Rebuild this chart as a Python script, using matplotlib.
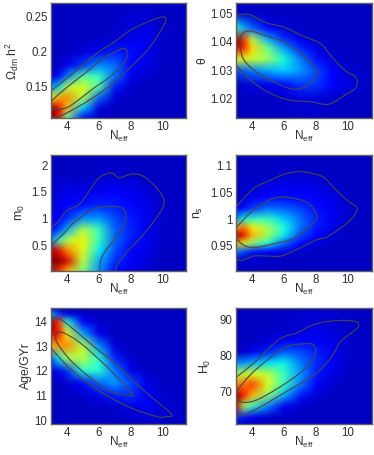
import numpy as np
import matplotlib
matplotlib.use('Agg')
import matplotlib.pyplot as plt
from matplotlib.path import Path
from matplotlib.patches import PathPatch

plt.rcParams['font.family'] = ['Liberation Sans', 'DejaVu Sans']
plt.rcParams['mathtext.fontset'] = 'custom'
plt.rcParams['mathtext.rm'] = 'Liberation Sans'
plt.rcParams['mathtext.it'] = 'Liberation Sans'
plt.rcParams['mathtext.default'] = 'regular'

W, H = 374, 455
FRAME = '#606060'
LINE = '#484848'
TEXT = '#303030'

# 공통 x 격자 (N_eff)
neff = [3, 3.5, 4, 5, 6, 7, 8, 9, 10, 11.5]
neff_ticks = [4, 6, 8, 10]

# Omega_dm h^2
om_y = [0.105, 0.12, 0.135, 0.15, 0.165, 0.18, 0.2, 0.22, 0.27]
om_z = [
    [1.0, .90, .45, .12, .06, .06, .06, .06, .06, .06],
    [1.0, .90, .72, .34, .08, .06, .06, .06, .06, .06],
    [.62, .72, .76, .58, .24, .08, .06, .06, .06, .06],
    [.25, .35, .56, .62, .45, .15, .07, .06, .06, .06],
    [.08, .12, .25, .46, .42, .24, .10, .07, .06, .06],
    [.06, .06, .10, .18, .27, .24, .13, .09, .06, .06],
    [.06, .06, .06, .08, .10, .15, .14, .10, .07, .06],
    [.06, .06, .06, .06, .06, .07, .09, .10, .07, .06],
    [.06, .06, .06, .06, .06, .06, .06, .06, .06, .06],
]
om_out_x = [3, 4, 5.9, 6.9, 8, 9, 10, 10.2, 9.45, 8.6, 6.9, 5.9, 4.85, 3.7, 3]
om_out_y = [.144, .162, .198, .213, .231, .242, .25, .243, .214, .191, .155, .138, .123, .109, .1046]
om_in_x = [3, 4, 5.3, 6.3, 7.15, 7.6, 7.8, 7.6, 6.7, 5.7, 4.85, 4.1, 3.4, 3]
om_in_y = [.129, .149, .172, .191, .201, .205, .198, .184, .164, .148, .133, .121, .117, .1186]

# theta
th_y = [1.0131, 1.02, 1.025, 1.03, 1.034, 1.038, 1.041, 1.045, 1.05, 1.0538]
th_z = [
    [.06, .06, .06, .06, .06, .06, .06, .06, .06, .06],
    [.06, .06, .06, .06, .07, .08, .08, .07, .06, .06],
    [.06, .07, .08, .10, .13, .18, .18, .13, .09, .06],
    [.20, .22, .25, .30, .33, .28, .20, .12, .07, .06],
    [.62, .62, .60, .54, .38, .25, .14, .08, .06, .06],
    [.94, .88, .68, .48, .28, .16, .09, .06, .06, .06],
    [1.0, .85, .58, .30, .17, .10, .07, .06, .06, .06],
    [.40, .30, .22, .12, .08, .06, .06, .06, .06, .06],
    [.08, .07, .06, .06, .06, .06, .06, .06, .06, .06],
    [.06, .06, .06, .06, .06, .06, .06, .06, .06, .06],
]
th_out_x = [3, 3.4, 3.9, 4.95, 6, 7.05, 8.3, 8.9, 9.8, 10.5, 10.5, 9.8, 8.8, 7.7, 6.2, 4.95, 3.9, 3]
th_out_y = [1.0494, 1.0498, 1.0496, 1.0467, 1.0453, 1.0424, 1.0394, 1.0353, 1.03, 1.0274, 1.0239, 1.0212, 1.018, 1.0188, 1.0196, 1.0224, 1.0265, 1.0318]
th_in_x = [3.3, 3.4, 3.9, 4.75, 6, 7.05, 8, 8, 7.25, 6.4, 5.15, 4, 3.4, 3.3]
th_in_y = [1.0394, 1.0429, 1.0439, 1.0424, 1.04, 1.0359, 1.0306, 1.0276, 1.0239, 1.0235, 1.0265, 1.0306, 1.0347, 1.0394]

# m_0
m_y = [.017, .2, .4, .6, .8, 1, 1.25, 1.5, 1.8, 2.194]
m_z = [
    [.90, .85, .72, .50, .28, .13, .09, .07, .06, .06],
    [1.0, 1.0, .92, .58, .30, .17, .11, .08, .06, .06],
    [.95, .90, .78, .62, .36, .20, .13, .09, .06, .06],
    [.25, .42, .56, .65, .42, .23, .15, .10, .07, .06],
    [.13, .18, .30, .56, .42, .22, .16, .10, .07, .06],
    [.10, .12, .17, .27, .28, .20, .15, .10, .07, .06],
    [.08, .09, .11, .14, .16, .15, .13, .09, .07, .06],
    [.07, .08, .10, .09, .10, .11, .10, .08, .06, .06],
    [.06, .06, .06, .06, .07, .07, .07, .06, .06, .06],
    [.06, .06, .06, .06, .06, .06, .06, .06, .06, .06],
]
m_out_x = [3, 3.5, 4, 4.85, 5.9, 6.5, 6.9, 7.3, 8.2, 9, 9.9, 10.1, 9.45, 8.6, 7.8, 7.15, 7.1]
m_out_y = [.83, .96, 1.15, 1.29, 1.73, 1.84, 1.85, 1.77, 1.84, 1.76, 1.48, 1.26, .94, .63, .38, .13, .017]
m_in_x = [3, 3.8, 4.5, 5.7, 6.5, 7.35, 7.7, 7.55, 6.95, 6.2, 6.05]
m_in_y = [.5, .72, .94, 1.18, 1.23, 1.21, 1.11, .85, .6, .28, .017]
m_low_x = [3, 3.3]
m_low_y = [.21, .017]

# n_s
ns_y = [.903, .925, .94, .955, .97, .985, 1, 1.02, 1.04, 1.06, 1.085, 1.12]
ns_z = [
    [.06, .06, .06, .06, .06, .06, .06, .06, .06, .06],
    [.07, .07, .07, .06, .06, .06, .06, .06, .06, .06],
    [.25, .20, .15, .12, .09, .07, .06, .06, .06, .06],
    [.74, .62, .52, .38, .22, .13, .08, .06, .06, .06],
    [1.0, .90, .72, .55, .36, .20, .12, .08, .06, .06],
    [.74, .78, .66, .54, .38, .24, .15, .09, .06, .06],
    [.28, .38, .42, .42, .33, .24, .16, .10, .07, .06],
    [.12, .14, .18, .24, .22, .19, .14, .10, .07, .06],
    [.07, .08, .10, .13, .14, .13, .11, .09, .06, .06],
    [.06, .06, .07, .09, .10, .10, .09, .07, .06, .06],
    [.06, .06, .06, .06, .07, .07, .06, .06, .06, .06],
    [.06, .06, .06, .06, .06, .06, .06, .06, .06, .06],
]
ns_out_x = [3, 4.1, 4.95, 6, 6.9, 7.7, 8.5, 9.15, 10, 10.55, 10.4, 9.8, 8.7, 8, 6.85, 5.8, 4.95, 4.1, 3.4, 3]
ns_out_y = [1.023, 1.0575, 1.07, 1.084, 1.089, 1.086, 1.078, 1.0575, 1.034, 1.022, 1.0075, .989, .967, .961, .944, .931, .931, .931, .923, .926]
ns_in_x = [3, 4.1, 5.35, 6.4, 7.45, 8, 7.9, 6.6, 5.35, 4.2, 3.5, 3]
ns_in_y = [.984, 1.017, 1.039, 1.04, 1.031, 1.011, .995, .964, .954, .947, .951, .964]

# Age
age_y = [9.84, 10.5, 11, 11.5, 12, 12.5, 13, 13.5, 14, 14.3, 14.54]
age_z = [
    [.06, .06, .06, .06, .06, .06, .06, .06, .06, .06],
    [.06, .06, .06, .06, .06, .07, .08, .10, .08, .06],
    [.06, .06, .06, .07, .09, .15, .17, .12, .07, .06],
    [.06, .06, .07, .12, .22, .28, .20, .09, .06, .06],
    [.07, .10, .17, .40, .40, .25, .10, .06, .06, .06],
    [.22, .36, .54, .58, .40, .16, .07, .06, .06, .06],
    [.72, .74, .76, .58, .27, .08, .06, .06, .06, .06],
    [.95, .88, .66, .30, .10, .06, .06, .06, .06, .06],
    [1.0, .85, .38, .12, .06, .06, .06, .06, .06, .06],
    [.32, .18, .08, .06, .06, .06, .06, .06, .06, .06],
    [.06, .06, .06, .06, .06, .06, .06, .06, .06, .06],
]
age_out_x = [3, 3.5, 4.2, 5.7, 7.15, 8.8, 10.55, 10.3, 9.67, 8, 6.1, 4.4, 3.5, 3]
age_out_y = [14.14, 14.11, 13.8, 12.98, 12.24, 11.22, 10.27, 10.14, 10.14, 10.5, 11.15, 11.97, 12.55, 12.94]
age_in_x = [3.4, 3.8, 4.85, 6.5, 8.1, 7.8, 6.75, 5.5, 4.2, 3.4, 3.3, 3.4]
age_in_y = [13.53, 13.53, 13.12, 12.17, 11.08, 11.02, 11.15, 11.7, 12.44, 13.12, 13.36, 13.53]

# H_0
h_y = [61, 63, 66, 69, 72, 75, 78, 81, 84, 87, 93.3]
h_z = [
    [.06, .06, .06, .06, .06, .06, .06, .06, .06, .06],
    [.18, .15, .10, .07, .06, .06, .06, .06, .06, .06],
    [.92, .55, .42, .25, .10, .07, .06, .06, .06, .06],
    [1.0, .88, .72, .52, .30, .15, .08, .06, .06, .06],
    [.78, .80, .85, .62, .42, .25, .12, .07, .06, .06],
    [.57, .57, .62, .58, .42, .28, .15, .09, .06, .06],
    [.27, .27, .30, .35, .37, .25, .17, .10, .07, .06],
    [.06, .07, .10, .16, .22, .20, .16, .10, .07, .06],
    [.06, .06, .06, .08, .10, .13, .12, .09, .07, .06],
    [.06, .06, .06, .06, .07, .08, .09, .08, .07, .06],
    [.06, .06, .06, .06, .06, .06, .06, .06, .06, .06],
]
h_out_x = [3, 4.1, 4.95, 5.8, 6.85, 8, 9.35, 10.5, 10.65, 10.2, 9.55, 8.9, 7.9, 6.6, 5.6, 4.55, 3.4, 3]
h_out_y = [74, 77.9, 81.6, 84.9, 86.5, 88.9, 89.8, 89.5, 88.1, 86.3, 84, 79.3, 74.7, 71.2, 68.6, 65.8, 63.5, 63.3]
h_in_x = [3, 3.9, 4.95, 6.2, 6.95, 7.7, 8, 7.7, 6.85, 5.6, 4.3, 3.5, 3]
h_in_y = [70, 74.7, 78.8, 82.6, 83.2, 83.3, 81.6, 78.4, 74.7, 70.9, 67.7, 67, 67.9]


def blur(img, dpi):
    """격자 경계가 보이지 않도록 이미지를 가우시안으로 흐리게 처리"""
    t = np.arange(-5, 6)
    kernel = np.exp(-t ** 2 / (2 * 1.8 ** 2))
    kernel = kernel / kernel.sum()
    out = img.copy()
    for c in range(3):
        band = np.pad(img[:, :, c], 5, mode='edge')
        band = np.apply_along_axis(np.convolve, 0, band, kernel, mode='valid')
        band = np.apply_along_axis(np.convolve, 1, band, kernel, mode='valid')
        out[:, :, c] = band
    return out, 0, 0


def curve_path(x, y):
    """읽어 둔 점들을 지나는 부드러운 곡선 (Catmull-Rom -> Bezier)"""
    p = np.column_stack([x, y])
    closed = np.allclose(p[0], p[-1])
    if closed:
        q = np.vstack([p[-2], p, p[1]])
    else:
        q = np.vstack([p[0], p, p[-1]])
    verts = [p[0]]
    codes = [Path.MOVETO]
    for i in range(1, len(q) - 2):
        verts += [q[i] + (q[i + 1] - q[i - 1]) / 6, q[i + 1] - (q[i + 2] - q[i]) / 6, q[i + 1]]
        codes += [Path.CURVE4] * 3
    return Path(verts, codes)


def add_panel(box, ys, z, lines, ylim, yticks, yticklabels, ylabel, label_x):
    """box = (왼쪽, 위, 오른쪽, 아래) 픽셀"""
    left, top, right, bottom = box
    ax = fig.add_axes([left / W, 1 - bottom / H, (right - left) / W, (bottom - top) / H])
    mesh = ax.pcolormesh(neff, ys, np.array(z), shading='gouraud', cmap='jet', vmin=0, vmax=1)
    mesh.set_agg_filter(blur)
    for lx, ly in lines:
        ax.add_patch(PathPatch(curve_path(lx, ly), fill=False, edgecolor=LINE, lw=0.9, alpha=0.9))
    ax.set_xlim(3, 11.5)
    ax.set_ylim(*ylim)
    ax.set_xticks(neff_ticks)
    ax.set_yticks(yticks)
    ax.set_yticklabels(yticklabels)
    ax.tick_params(length=0, labelsize=8.3, pad=2.5, colors=TEXT)
    ax.set_xlabel(r'$N_{eff}$', fontsize=8.5, color=TEXT, labelpad=-3.5)
    ax.set_ylabel(ylabel, fontsize=8.8, color=TEXT, va='center')
    ax.yaxis.set_label_coords((label_x - left) / (right - left), 0.5)
    for s in ax.spines.values():
        s.set_color(FRAME)
        s.set_linewidth(1.0)
    return ax


fig = plt.figure(figsize=(W / 100, H / 100), dpi=100)

add_panel((51, 3, 186, 118), om_y, om_z,
          [(om_out_x, om_out_y), (om_in_x, om_in_y)],
          (0.105, 0.27), [.15, .2, .25], ['0.15', '0.2', '0.25'],
          r'$\Omega_{dm}\ h^2$', 12)
add_panel((236, 3, 372, 118), th_y, th_z,
          [(th_out_x, th_out_y), (th_in_x, th_in_y)],
          (1.0131, 1.0538), [1.02, 1.03, 1.04, 1.05], ['1.02', '1.03', '1.04', '1.05'],
          r'$\theta$', 203)
add_panel((51, 155, 186, 271), m_y, m_z,
          [(m_out_x, m_out_y), (m_in_x, m_in_y), (m_low_x, m_low_y)],
          (0.017, 2.194), [.5, 1, 1.5, 2], ['0.5', '1', '1.5', '2'],
          r'$m_0$', 20)
add_panel((236, 155, 372, 271), ns_y, ns_z,
          [(ns_out_x, ns_out_y), (ns_in_x, ns_in_y)],
          (0.903, 1.12), [.95, 1, 1.05, 1.1], ['0.95', '1', '1.05', '1.1'],
          r'$n_s$', 198)
add_panel((51, 308, 186, 424), age_y, age_z,
          [(age_out_x, age_out_y), (age_in_x, age_in_y)],
          (9.84, 14.54), [10, 11, 12, 13, 14], ['10', '11', '12', '13', '14'],
          'Age/GYr', 26)
add_panel((236, 308, 372, 424), h_y, h_z,
          [(h_out_x, h_out_y), (h_in_x, h_in_y)],
          (61, 93.3), [70, 80, 90], ['70', '80', '90'],
          r'$H_0$', 205)

fig.savefig('out.png', dpi=100)
